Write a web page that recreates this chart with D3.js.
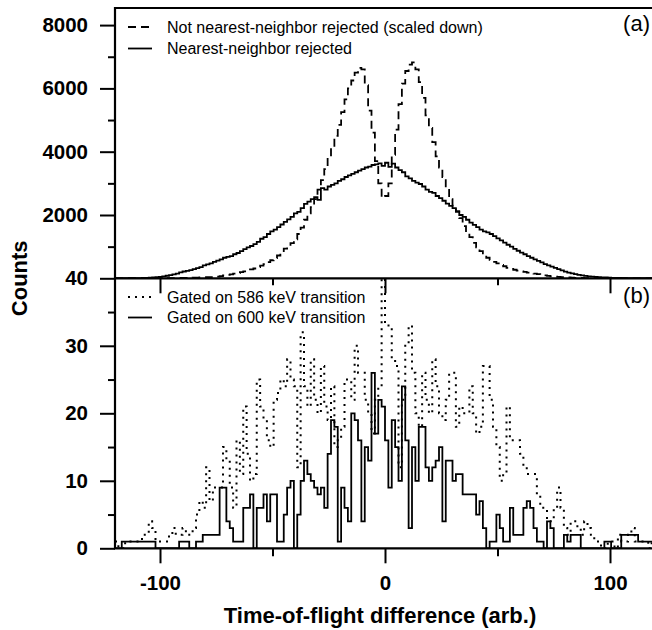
<!DOCTYPE html>
<html>
<head>
<meta charset="utf-8">
<script src="https://cdn.jsdelivr.net/npm/d3@7"></script>
<style>
  body { margin: 0; background: #fff; }
  svg { display: block; font-family: "Liberation Sans", Arial, Helvetica, sans-serif; }
</style>
</head>
<body>
<script>
// histogram bins, 1.5 units wide starting at -120
var binStart = -120, binWidth = 1.5

// (a) counts, not nearest-neighbor rejected (scaled down) and nearest-neighbor rejected
var notRejected = [
  0,0,0,1,1,1,1,2,2,2, 2,3,3,4,4,5,6,7,8,10,
  12,14,16,19,22,26,30,35,40,46, 55,70,90,110,125,145,165,195,220,245,
  280,310,350,400,450,510,570,640,720,820, 940,1020,1110,1230,1400,1600,1850,2050,2250,2500,
  2800,3100,3450,3850,4150,4500,4850,5250,5650,6000, 6250,6500,6650,6600,6100,5300,4600,3700,3000,2550,
  2600,3000,3900,4700,5500,6150,6550,6750,6820,6600, 6200,5700,5150,4750,4300,3850,3500,3200,2850,2500,
  2300,2100,1900,1650,1450,1300,1120,980,860,740, 650,580,520,470,420,380,330,300,270,240,
  220,200,180,165,150,130,110,90,75,60, 50,42,35,30,25,20,16,13,10,8,
  6,5,4,3,3,2,2,1,1,1, 1,1,0,0,0,0,0,0,0,0
]
var rejected = [
  2,2,3,3,4,5,6,8,11,15, 20,28,36,48,62,80,100,125,150,185,
  215,235,260,290,320,355,410,440,470,520, 560,600,650,680,700,760,800,860,920,980,
  1020,1080,1150,1250,1300,1400,1480,1540,1620,1700, 1780,1860,1940,2050,2100,2220,2350,2420,2500,2560,
  2480,2850,2800,2900,2950,3000,3080,3130,3200,3250, 3300,3350,3400,3450,3500,3530,3580,3600,3630,3550,
  3650,3520,3620,3500,3420,3350,3220,3160,3080,3020, 2980,2900,2800,2730,2700,2600,2530,2450,2360,2290,
  2220,2120,2000,1940,1850,1760,1690,1620,1540,1480, 1450,1400,1330,1260,1200,1130,1060,1000,930,870,
  810,760,700,650,600,550,500,450,410,370, 330,290,250,210,180,155,130,110,90,75,
  62,52,44,37,30,25,20,16,13,10, 8,7,6,5,4,4,3,3,2,2
]

// (b) counts gated on the 586 keV and 600 keV transitions
var gated586 = [
  1,0,0,1,1,1,1,1,2,2, 4,3,1,1,1,1,2,3,2,2,
  3,2,2,3,5,7,6,12,7,9, 9,9,15,13,9,6,16,11,21,14,
  10,11,25,21,19,16,15,22,23,25, 24,28,25,24,12,32,24,21,28,22,
  20,27,21,19,24,15,16,18,25,25, 22,30,26,26,22,20,17,22,24,40,
  33,33,28,27,12,22,30,33,26,20, 18,26,22,20,28,24,20,19,22,26,
  26,18,21,20,20,24,20,17,18,27, 27,22,18,15,10,11,21,16,16,16,
  14,12,11,11,11,8,6,6,4,4, 6,9,6,3,2,4,4,3,2,4,
  3,2,1,1,0,0,1,1,0,2, 1,1,2,3,1,1,1,1,0,1
]
var gated600 = [
  0,0,1,1,1,1,1,1,1,1, 1,1,0,0,0,0,0,0,0,1,
  1,1,0,0,1,1,2,2,2,2, 2,9,9,4,3,1,1,1,6,6,
  8,0,6,6,8,4,8,8,1,1, 5,9,10,0,5,10,13,11,10,9,
  8,9,6,14,19,18,1,9,6,4, 20,19,16,4,15,13,26,17,22,21,
  16,9,19,15,10,24,16,3,15,10, 18,18,12,10,12,13,15,4,13,13,
  10,11,11,8,8,8,8,5,7,3, 0,1,1,5,3,1,1,6,2,2,
  2,6,7,6,3,1,1,0,4,3, 0,0,0,2,1,2,2,2,0,0,
  0,0,0,0,0,1,1,0,0,0, 2,2,2,2,2,1,1,1,1,1
]

var xTicks = [-100, 0, 100], xMinor = [-50, 50]
var yTicksA = [2000, 4000, 6000, 8000], yMinorA = [1000, 3000, 5000, 7000]
var yTicksB = [0, 10, 20, 30, 40], yMinorB = [5, 15, 25, 35]

var width = 652, height = 630
var svg = d3.select('body').append('svg').attr('width', width).attr('height', height)

var left = 115, right = 655, topA = 8, mid = 278.3, bottom = 548.3

var x = d3.scaleLinear().domain([-120, 120]).range([left, right])
var yA = d3.scaleLinear().domain([0, 8540]).range([mid, topA])
var yB = d3.scaleLinear().domain([0, 40]).range([bottom, mid])

svg.append('clipPath').attr('id', 'clipA').append('rect')
  .attr('x', left).attr('y', topA).attr('width', right - left).attr('height', mid - topA)
svg.append('clipPath').attr('id', 'clipB').append('rect')
  .attr('x', left).attr('y', mid).attr('width', right - left).attr('height', bottom - mid)

function steps(vals){
  var pts = vals.map((v, i) => ({x: binStart + i*binWidth, v}))
  pts.push({x: binStart + vals.length*binWidth, v: vals[vals.length - 1]})
  return pts
}

function drawHist(vals, y, clip, style){
  var line = d3.line().x(d => x(d.x)).y(d => y(d.v)).curve(d3.curveStepAfter)
  svg.append('path')
    .attr('clip-path', 'url(#' + clip + ')')
    .attr('d', line(steps(vals)))
    .attr('fill', 'none')
    .attr('stroke', '#000')
    .attr('stroke-width', style.w)
    .attr('stroke-dasharray', style.dash || null)
}

var dashed = {w: 1.8, dash: '8,5'}
var solid = {w: 1.8}
var dotted = {w: 2, dash: '2,5'}

drawHist(notRejected, yA, 'clipA', dashed)
drawHist(rejected, yA, 'clipA', solid)
drawHist(gated586, yB, 'clipB', dotted)
drawHist(gated600, yB, 'clipB', solid)

// axes: plain integers with an ascii hyphen for negatives
var fmt = d => String(d)

function styleAxis(g){
  g.select('.domain').remove()
  g.selectAll('line').attr('stroke-width', 2)
  g.selectAll('text').attr('font-size', 20.5).attr('font-weight', 'bold').attr('fill', '#000')
}

svg.append('g').attr('transform', `translate(${left},0)`)
  .call(d3.axisLeft(yA).tickValues(yTicksA).tickSize(15).tickPadding(12).tickFormat(fmt))
  .call(styleAxis)
svg.append('g').attr('transform', `translate(${left},0)`)
  .call(d3.axisLeft(yA).tickValues(yMinorA).tickSize(7).tickFormat(''))
  .call(styleAxis)
svg.append('g').attr('transform', `translate(${left},0)`)
  .call(d3.axisLeft(yB).tickValues(yTicksB).tickSize(15).tickPadding(12).tickFormat(fmt))
  .call(styleAxis)
svg.append('g').attr('transform', `translate(${left},0)`)
  .call(d3.axisLeft(yB).tickValues(yMinorB).tickSize(7).tickFormat(''))
  .call(styleAxis)

// ticks under the panel divider, pointing into (b)
svg.append('g').attr('transform', `translate(0,${mid})`)
  .call(d3.axisBottom(x).tickValues(xTicks).tickSize(15).tickFormat(''))
  .call(styleAxis)
svg.append('g').attr('transform', `translate(0,${mid})`)
  .call(d3.axisBottom(x).tickValues(xMinor).tickSize(7).tickFormat(''))
  .call(styleAxis)

svg.append('g').attr('transform', `translate(0,${bottom})`)
  .call(d3.axisBottom(x).tickValues(xTicks).tickSize(15).tickPadding(12).tickFormat(fmt))
  .call(styleAxis)
svg.append('g').attr('transform', `translate(0,${bottom})`)
  .call(d3.axisBottom(x).tickValues(xMinor).tickSize(8).tickFormat(''))
  .call(styleAxis)

// frame
var frame = svg.append('g').attr('stroke', '#000').attr('stroke-width', 2.2).attr('fill', 'none')
frame.append('path').attr('d', `M${right + 5},${topA}H${left}V${bottom}H${right + 5}`)
frame.append('path').attr('d', `M${left},${mid}H${right + 5}`)

// axis titles
svg.append('text')
  .attr('transform', `translate(27,${mid}) rotate(-90)`)
  .attr('text-anchor', 'middle')
  .attr('font-size', 22).attr('font-weight', 'bold')
  .text('Counts')
svg.append('text')
  .attr('x', 380).attr('y', 623)
  .attr('text-anchor', 'middle')
  .attr('font-size', 22).attr('font-weight', 'bold')
  .text('Time-of-flight difference (arb.)')

// panel labels
svg.append('text').attr('x', 650).attr('y', 31).attr('text-anchor', 'end')
  .attr('font-size', 22).text('(a)')
svg.append('text').attr('x', 650).attr('y', 303).attr('text-anchor', 'end')
  .attr('font-size', 22).text('(b)')

// legends
var legends = [
  {y: 27, label: 'Not nearest-neighbor rejected (scaled down)', style: dashed},
  {y: 48.5, label: 'Nearest-neighbor rejected', style: solid},
  {y: 297, label: 'Gated on 586 keV transition', style: dotted},
  {y: 317.5, label: 'Gated on 600 keV transition', style: solid}
]
var leg = svg.selectAll('.leg').data(legends).join('g').attr('class', 'leg')
leg.append('line')
  .attr('x1', 128).attr('x2', 152)
  .attr('y1', d => d.y).attr('y2', d => d.y)
  .attr('stroke', '#000')
  .attr('stroke-width', d => d.style.w)
  .attr('stroke-dasharray', d => d.style.dash || null)
leg.append('text')
  .attr('x', 167).attr('y', d => d.y + 5.5)
  .attr('font-size', 16)
  .text(d => d.label)
</script>
</body>
</html>
